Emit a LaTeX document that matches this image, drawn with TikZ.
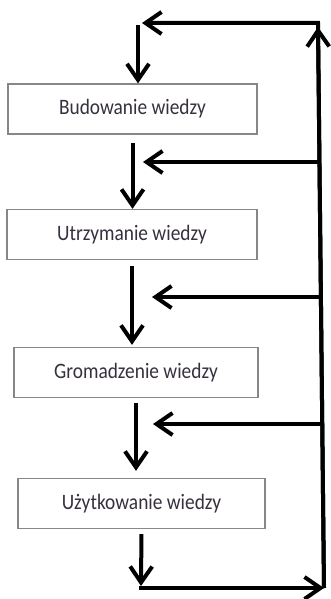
\documentclass[tikz,border=0pt]{standalone}
\usepackage{fontspec}
\setmainfont{Carlito}
\usetikzlibrary{arrows.meta}
\definecolor{boxline}{RGB}{135,135,135}
\definecolor{labeltext}{RGB}{55,48,62}
\newcommand\stagelabel[1]{\scalebox{0.88}[1]{#1}}
\begin{document}
\begin{tikzpicture}[x=1pt,y=-1pt,
  stage/.style={draw=boxline, line width=1.3pt, fill=white, minimum width=#1,
    minimum height=50pt, inner sep=0pt, text=labeltext,
    font=\fontsize{22}{24}\selectfont},
  flow/.style={line width=4pt, draw=black},
  tip/.style={-{Straight Barb[length=16pt,width=22pt]}}]
\useasboundingbox (0,0) rectangle (330,599);

% the four stages
\node[stage=249pt] (b1) at (132.5,109) {\stagelabel{Budowanie wiedzy}};
\node[stage=250pt] (b2) at (132,234.5) {\stagelabel{Utrzymanie wiedzy}};
\node[stage=244pt] (b3) at (136,372.5) {\stagelabel{Gromadzenie wiedzy}};
\node[stage=247pt] (b4) at (141.5,503.5) {\stagelabel{Użytkowanie wiedzy}};

% corners of the feedback loop
\coordinate (tr) at (318,23);
\coordinate (br) at (324,588);
\coordinate (tl) at (138,23);
\coordinate (tltip) at (142,23);
\coordinate (uptip) at (318,27);
\coordinate (bl) at (139,588);
\coordinate (bldown) at (141,586);

% entry points on the return line
\coordinate (f1) at (319.5,162);
\coordinate (f2) at (320.9,297);
\coordinate (f3) at (322.3,424);
\coordinate (t1) at (143,162);
\coordinate (t2) at (152,297);
\coordinate (t3) at (153,424);

% main downward flow
\draw[flow,tip] ([yshift=-2pt]tl) -- (tl |- b1.north);
\draw[flow,tip,shorten <=8pt] (b1.south) -- (b1.south |- b2.north);
\draw[flow,tip,shorten <=6pt,shorten >=2pt] (b2.south) -- (b2.south |- b3.north);
\draw[flow,tip,shorten <=5pt,shorten >=7pt] (b3.south) -- (b3.south |- b4.north);
\draw[flow,tip,shorten <=5pt] (b4.south) -- (bldown);

% feedback loop
\draw[flow,tip] (bl) -- (br);
\draw[flow,tip] (br) -- (uptip);
\draw[flow,tip] (br) -- (tr) -- (tltip);

% feeds back into each stage transition
\draw[flow,tip] (f1) -- (t1);
\draw[flow,tip] (f2) -- (t2);
\draw[flow,tip] (f3) -- (t3);
\end{tikzpicture}
\end{document}
